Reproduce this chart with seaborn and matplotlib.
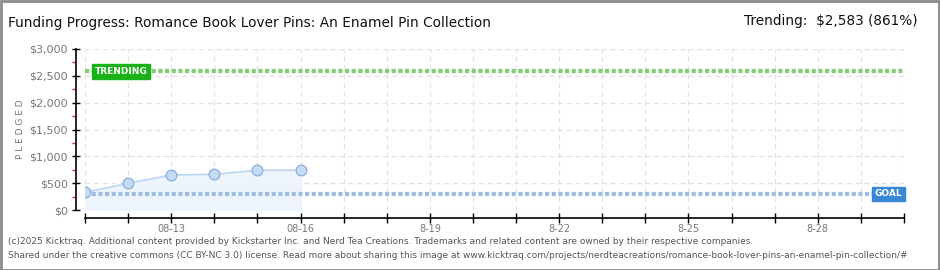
import matplotlib
matplotlib.use("Agg")
import matplotlib.pyplot as plt
import seaborn as sns
import pandas as pd
from matplotlib.patches import Rectangle
from matplotlib.ticker import MultipleLocator, FixedLocator, FuncFormatter

# ---- data ----
days = [11, 12, 13, 14, 15, 16]            # August day numbers
pledged = [330, 498, 653, 666, 741, 741]
goal = 300
trending = 2583
tick_days = [13, 16, 19, 22, 25, 28]
tick_labels = ["08-13", "08-16", "8-19", "8-22", "8-25", "8-28"]
y_ticks = [0, 500, 1000, 1500, 2000, 2500, 3000]
title = "Funding Progress: Romance Book Lover Pins: An Enamel Pin Collection"
trend_text = "Trending:  $2,583 (861%)"
footer1 = "(c)2025 Kicktraq. Additional content provided by Kickstarter Inc. and Nerd Tea Creations. Trademarks and related content are owned by their respective companies."
footer2 = "Shared under the creative commons (CC BY-NC 3.0) license. Read more about sharing this image at www.kicktraq.com/projects/nerdteacreations/romance-book-lover-pins-an-enamel-pin-collection/#"

df = pd.DataFrame({"day": days, "pledged": pledged})

sns.set_theme(style="white")
plt.rcParams["font.family"] = ["DejaVu Sans"]

W, H = 940, 270
PT = 72 / 100  # points per pixel
fig = plt.figure(figsize=(W / 100, H / 100), dpi=100)
fig.patch.set_facecolor("white")
ax = fig.add_axes([85 / W, 1 - 210 / H, (904 - 85) / W, (210 - 49) / H])
ax.set_facecolor("white")

ax.set_xlim(11, 30)
ax.set_ylim(0, 3000)

# grid
ax.yaxis.set_major_locator(FixedLocator(y_ticks))
ax.yaxis.set_minor_locator(MultipleLocator(250))
ax.grid(True, which="major", color="#e2e2e2", linestyle=(0, (4, 3)), linewidth=0.9)
ax.set_axisbelow(True)

# fill + line + markers
ax.fill_between(df["day"], df["pledged"], 0, color="#edf4fc", zorder=1)
sns.lineplot(data=df, x="day", y="pledged", ax=ax, color="#bcd6f2", linewidth=1.2, zorder=2)
sns.scatterplot(data=df, x="day", y="pledged", ax=ax, s=60, color="#c3dbf5",
                edgecolor="#8caedb", linewidth=0.9, zorder=3)

# goal and trending lines
ax.axhline(goal, color="#9dbde3", linewidth=3, linestyle=(0, (1.0, 0.6)), zorder=2)
ax.axhline(trending, color="#7fcf72", linewidth=3, linestyle=(0, (1.0, 0.6)), zorder=2)

ax.text(11.22, trending, "TRENDING", color="white", fontsize=6.5, fontweight="bold",
        va="center", ha="left", zorder=5,
        bbox=dict(boxstyle="square,pad=0.3", fc="#19b219", ec="#19b219"))
ax.text(29.95, goal, "GOAL", color="white", fontsize=6.5, fontweight="bold",
        va="center", ha="right", zorder=5,
        bbox=dict(boxstyle="square,pad=0.3", fc="#3a87d6", ec="#3a87d6"))

# spines
for s in ["top", "right"]:
    ax.spines[s].set_visible(False)
ax.spines["left"].set_position(("outward", 9 * PT))
ax.spines["bottom"].set_position(("outward", 8 * PT))
for s in ["left", "bottom"]:
    ax.spines[s].set_color("black")
    ax.spines[s].set_linewidth(1.2)

ax.yaxis.set_major_formatter(FuncFormatter(lambda v, p: f"${int(v):,}"))
ax.tick_params(axis="y", which="major", direction="inout", length=6, width=1, colors="black",
               labelcolor="#777777", labelsize=8, pad=3, left=True)
ax.tick_params(axis="y", which="minor", direction="out", length=3, width=1, color="#dd2222", left=True)

ax.set_xticks(range(11, 31))
ax.set_xticklabels([tick_labels[tick_days.index(d)] if d in tick_days else "" for d in range(11, 31)])
ax.tick_params(axis="x", which="major", direction="inout", length=7, width=1, colors="black",
               labelcolor="#777777", labelsize=7, pad=1, bottom=True)

ax.set_xlabel("")
ax.set_ylabel("P L E D G E D", color="#777777", fontsize=6.5, labelpad=3)

# titles
fig.text(8 / W, 1 - 23 / H, title, fontsize=9.8, color="#111111", va="center", ha="left")
fig.text(918 / W, 1 - 21 / H, trend_text, fontsize=9.8, color="#111111", va="center", ha="right")

# footer
fig.text(8 / W, 1 - 242 / H, footer1, fontsize=6.5, color="#555555", va="center", ha="left")
fig.text(8 / W, 1 - 255 / H, footer2, fontsize=6.5, color="#555555", va="center", ha="left")

# border
fig.add_artist(Rectangle((0.5 / W, 0.5 / H), 1 - 1.5 / W, 1 - 1.5 / H, transform=fig.transFigure,
                         fill=False, edgecolor="#8a8a8a", linewidth=2))

fig.savefig("out.png", dpi=100)
